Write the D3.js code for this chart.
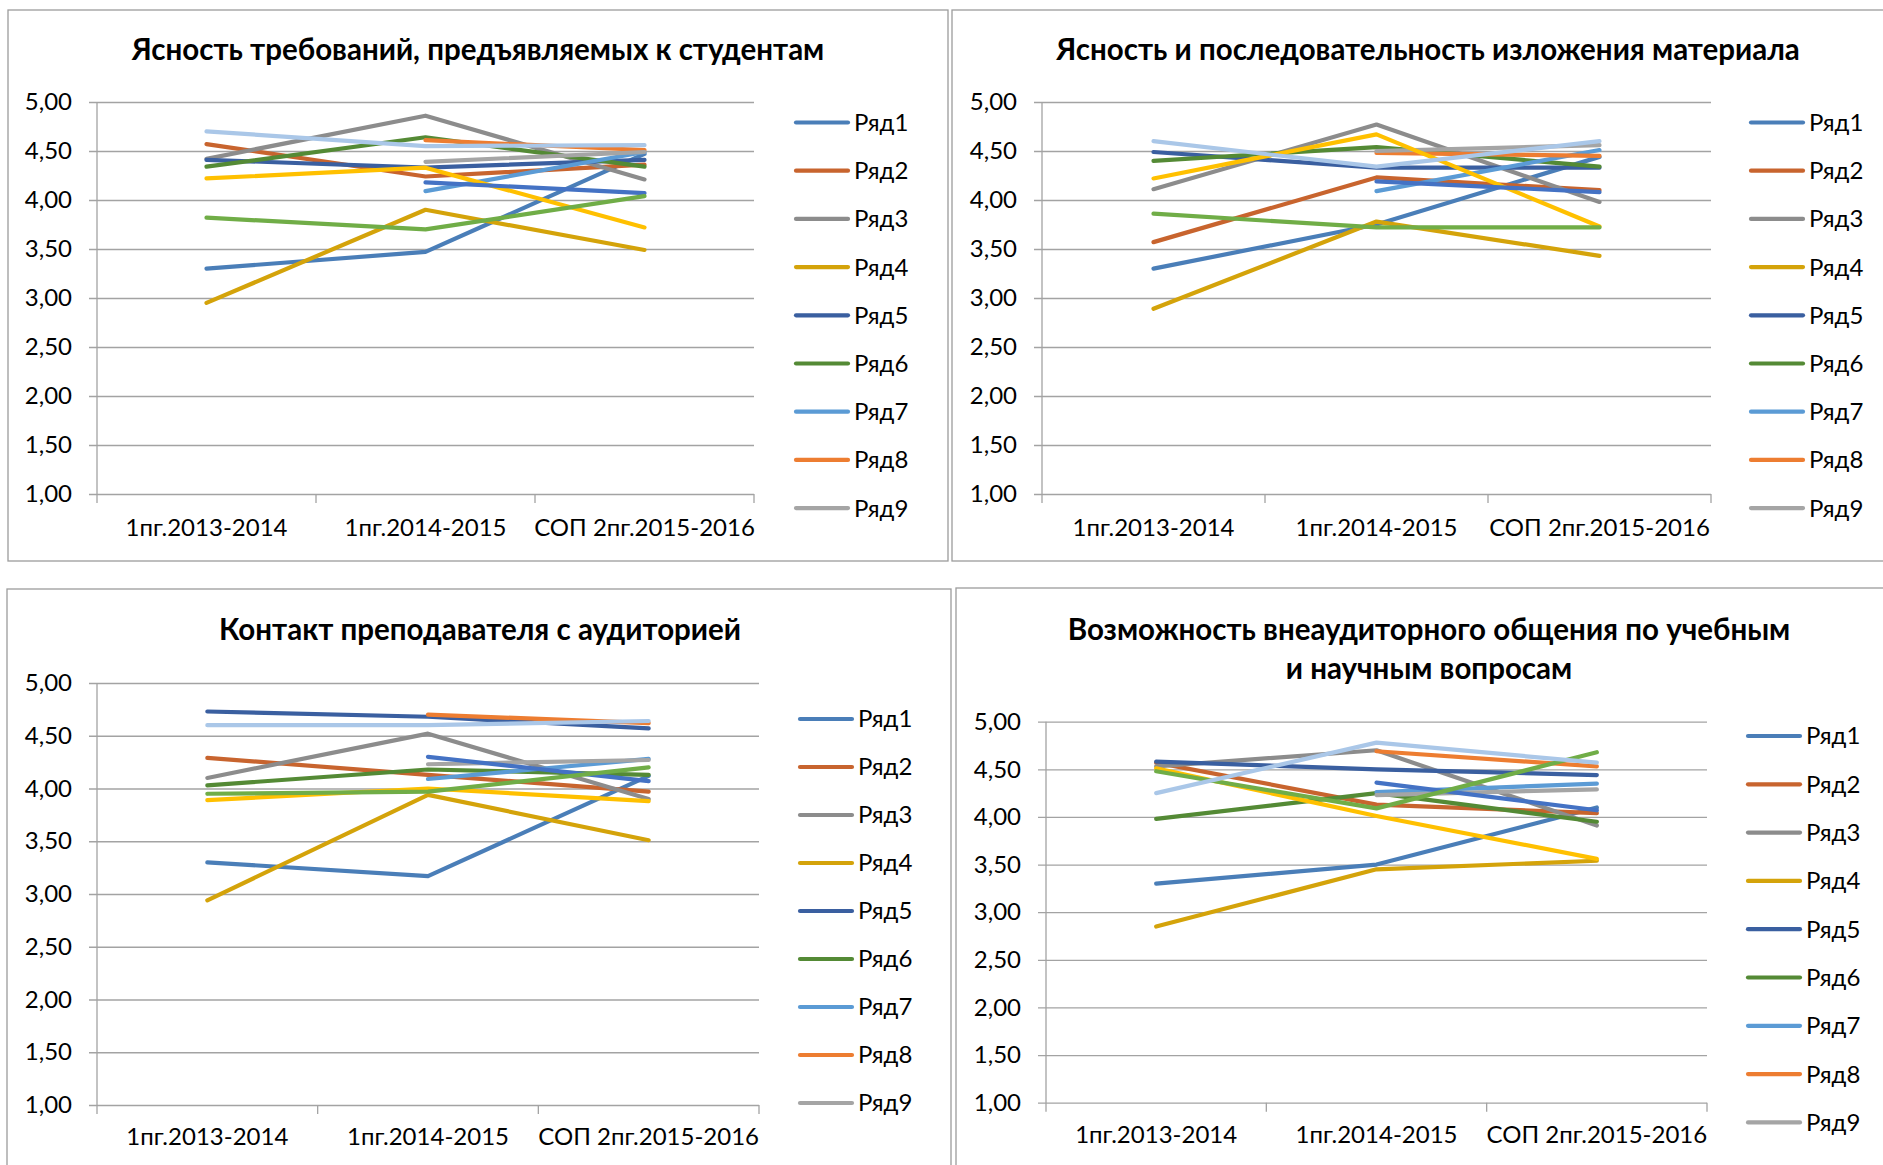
<!DOCTYPE html>
<html>
<head>
<meta charset="utf-8">
<script src="https://cdn.jsdelivr.net/npm/d3@7"></script>
<style>
  body { margin: 0; background: #fff; }
  svg text { font-family: Lato, Roboto, sans-serif; fill: #000; }
</style>
</head>
<body>
<svg id="chart" width="1883" height="1165"></svg>
<script>
// categories and tick labels
const categories = ["1пг.2013-2014", "1пг.2014-2015", "СОП 2пг.2015-2016"];
const seriesNames = ["Ряд1", "Ряд2", "Ряд3", "Ряд4", "Ряд5", "Ряд6", "Ряд7",
  "Ряд8", "Ряд9", "Ряд10", "Ряд11", "Ряд12", "Ряд13"];
const yTicks = [1, 1.5, 2, 2.5, 3, 3.5, 4, 4.5, 5];

// one row per series, one value per category (null = no value)
const clarityReq = [
  [3.30, 3.47, 4.47],
  [4.57, 4.24, 4.36],
  [4.42, 4.86, 4.21],
  [2.95, 3.90, 3.49],
  [4.41, 4.33, 4.41],
  [4.34, 4.64, 4.34],
  [null, 4.09, 4.49],
  [null, 4.61, 4.51],
  [null, 4.39, 4.49],
  [4.22, 4.33, 3.72],
  [null, 4.18, 4.07],
  [3.82, 3.70, 4.04],
  [4.70, 4.55, 4.56]
];
const clarityMat = [
  [3.30, 3.75, 4.44],
  [3.57, 4.23, 4.10],
  [4.11, 4.77, 3.98],
  [2.89, 3.78, 3.43],
  [4.49, 4.33, 4.33],
  [4.40, 4.54, 4.34],
  [null, 4.09, 4.51],
  [null, 4.48, 4.45],
  [null, 4.50, 4.56],
  [4.22, 4.67, 3.73],
  [null, 4.19, 4.08],
  [3.86, 3.72, 3.72],
  [4.60, 4.34, 4.60]
];
const contact = [
  [3.30, 3.17, 4.12],
  [4.29, 4.13, 3.97],
  [4.10, 4.52, 3.90],
  [2.94, 3.94, 3.51],
  [4.73, 4.68, 4.57],
  [4.03, 4.18, 4.13],
  [null, 4.09, 4.28],
  [null, 4.70, 4.62],
  [null, 4.23, 4.27],
  [3.89, 4.00, 3.88],
  [null, 4.30, 4.07],
  [3.95, 3.97, 4.20],
  [4.60, 4.60, 4.64]
];
const outside = [
  [3.30, 3.50, 4.10],
  [4.57, 4.13, 4.04],
  [4.53, 4.70, 3.91],
  [2.85, 3.45, 3.54],
  [4.58, 4.50, 4.44],
  [3.98, 4.25, 3.95],
  [null, 4.26, 4.35],
  [null, 4.69, 4.53],
  [null, 4.23, 4.29],
  [4.51, 4.01, 3.56],
  [null, 4.36, 4.07],
  [4.48, 4.09, 4.68],
  [4.25, 4.78, 4.57]
];

const colors = ["#4a7eb8", "#c8642e", "#8c8c8c", "#d4a30a", "#3a5fa0", "#548a35",
  "#5b9bd5", "#ed7d31", "#a5a5a5", "#ffc000", "#4472c4", "#70ad47", "#aac7e8"];

const panels = [
  { title: ["Ясность требований, предъявляемых к студентам"], data: clarityReq,
    box: [8, 10, 940, 551], plot: { l: 97, r: 754, t: 102, b: 494 },
    titleX: 478, titleY: [60], labelY: 528, legend: { x: 796, y: 122.5, step: 48.2 } },
  { title: ["Ясность и последовательность изложения материала"], data: clarityMat,
    box: [952, 10, 940, 551], plot: { l: 1042, r: 1711, t: 102, b: 494 },
    titleX: 1428, titleY: [60], labelY: 528, legend: { x: 1751, y: 122.5, step: 48.2 } },
  { title: ["Контакт преподавателя с аудиторией"], data: contact,
    box: [7, 589, 944, 600], plot: { l: 97, r: 759, t: 683, b: 1105 },
    titleX: 480, titleY: [640], labelY: 1137, legend: { x: 800, y: 719, step: 48 } },
  { title: ["Возможность внеаудиторного общения по учебным", "и научным вопросам"], data: outside,
    box: [956, 588, 940, 600], plot: { l: 1046, r: 1707, t: 721.7, b: 1102.7 },
    titleX: 1429, titleY: [640, 679], labelY: 1135, legend: { x: 1748, y: 736, step: 48.3 } }
];

const gridColor = "#a3a3a3";
const svg = d3.select("#chart");

panels.forEach(p => {
  const g = svg.append("g");

  g.append("rect")
    .attr("x", p.box[0]).attr("y", p.box[1])
    .attr("width", p.box[2]).attr("height", p.box[3])
    .attr("fill", "#fff").attr("stroke", "#9c9c9c").attr("stroke-width", 1.3);

  p.title.forEach((t, i) => {
    g.append("text")
      .attr("x", p.titleX).attr("y", p.titleY[i])
      .attr("text-anchor", "middle")
      .attr("font-size", 29.5).attr("font-weight", "bold")
      .text(t);
  });

  const x = d3.scaleBand().domain(categories).range([p.plot.l, p.plot.r]);
  const y = d3.scaleLinear().domain([1, 5]).range([p.plot.b, p.plot.t]);
  const xc = d => x(d) + x.bandwidth() / 2;

  // gridlines + left ticks
  const yAxis = g.append("g")
    .attr("transform", `translate(${p.plot.l},0)`)
    .call(d3.axisLeft(y).tickValues(yTicks)
      .tickSizeInner(-(p.plot.r - p.plot.l)).tickSizeOuter(0)
      .tickPadding(25)
      .tickFormat(d => d3.format(".2f")(d).replace(".", ",")));
  yAxis.select(".domain").remove();
  yAxis.selectAll(".tick line").attr("stroke", gridColor).attr("stroke-width", 1.3)
    .attr("x1", -8);
  yAxis.selectAll(".tick text").attr("font-size", 24).attr("fill", "#000");

  // vertical axis line
  g.append("line")
    .attr("x1", p.plot.l).attr("x2", p.plot.l)
    .attr("y1", y(5)).attr("y2", y(1) + 9)
    .attr("stroke", gridColor).attr("stroke-width", 1.3);

  // category boundary ticks
  const bounds = categories.map(c => x(c)).concat([p.plot.r]);
  g.selectAll(".ctick").data(bounds.slice(1)).join("line")
    .attr("x1", d => d).attr("x2", d => d)
    .attr("y1", y(1)).attr("y2", y(1) + 9)
    .attr("stroke", gridColor).attr("stroke-width", 1.3);

  // category labels
  const xAxis = g.append("g")
    .attr("transform", `translate(0,${p.labelY})`)
    .call(d3.axisBottom(x).tickSize(0).tickPadding(0));
  xAxis.select(".domain").remove();
  xAxis.selectAll(".tick text").attr("font-size", 24).attr("fill", "#000").attr("dy", "0.35em");

  // series lines
  const line = d3.line()
    .defined(d => d.v != null)
    .x(d => xc(d.c)).y(d => y(d.v));

  p.data.forEach((row, i) => {
    const pts = row.map((v, j) => ({ c: categories[j], v }));
    g.append("path")
      .datum(pts)
      .attr("d", line)
      .attr("fill", "none")
      .attr("stroke", colors[i])
      .attr("stroke-width", 4.2)
      .attr("stroke-linejoin", "round")
      .attr("stroke-linecap", "round");
  });

  // legend (first nine series only, as in the original)
  const leg = g.append("g");
  seriesNames.slice(0, 9).forEach((name, i) => {
    const ly = p.legend.y + i * p.legend.step;
    leg.append("line")
      .attr("x1", p.legend.x).attr("x2", p.legend.x + 52)
      .attr("y1", ly).attr("y2", ly)
      .attr("stroke", colors[i]).attr("stroke-width", 4.2)
      .attr("stroke-linecap", "round");
    leg.append("text")
      .attr("x", p.legend.x + 58).attr("y", ly)
      .attr("dy", "0.35em").attr("font-size", 24)
      .text(name);
  });
});
</script>
</body>
</html>
